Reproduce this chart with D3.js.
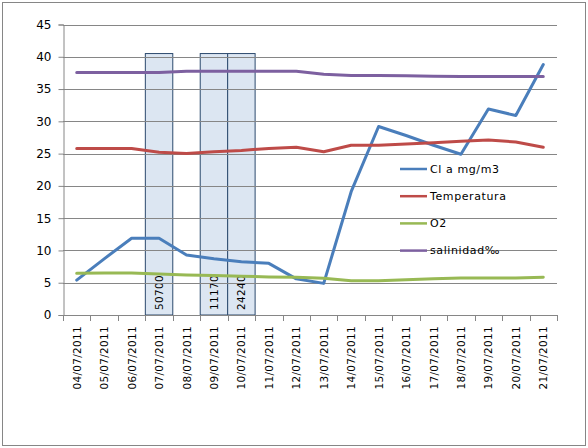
<!DOCTYPE html>
<html>
<head>
<meta charset="utf-8">
<script src="https://cdn.jsdelivr.net/npm/d3@7"></script>
<style>
  body { margin: 0; background: #fff; }
  svg { display: block; font-family: "DejaVu Sans", sans-serif; }
</style>
</head>
<body>
<div id="chart"></div>
<script>
// categories (one per day)
const dates = ["04/07/2011","05/07/2011","06/07/2011","07/07/2011","08/07/2011","09/07/2011",
  "10/07/2011","11/07/2011","12/07/2011","13/07/2011","14/07/2011","15/07/2011",
  "16/07/2011","17/07/2011","18/07/2011","19/07/2011","20/07/2011","21/07/2011"];

// line series
const cla = [5.4, 8.7, 11.9, 11.9, 9.3, 8.7, 8.25, 8.0, 5.6, 4.9, 19.1, 29.2, 27.8, 26.3, 24.9, 31.9, 30.9, 38.8];
const temperatura = [25.8, 25.8, 25.8, 25.2, 25.0, 25.3, 25.5, 25.8, 26.0, 25.3, 26.3, 26.3, 26.5, 26.7, 26.9, 27.1, 26.8, 26.0];
const o2 = [6.45, 6.5, 6.5, 6.35, 6.2, 6.1, 6.0, 5.9, 5.85, 5.7, 5.3, 5.3, 5.45, 5.6, 5.75, 5.75, 5.75, 5.85];
const salinidad = [37.55, 37.55, 37.55, 37.55, 37.75, 37.75, 37.75, 37.75, 37.75, 37.3, 37.1, 37.1, 37.05, 37.0, 36.95, 36.95, 36.95, 36.95];

// column series (same height, labelled with their counts)
const barDates = ["07/07/2011", "09/07/2011", "10/07/2011"];
const barHeights = [40.5, 40.5, 40.5];
const barLabels = ["50700", "11170", "24240"];

const yTicks = [0, 5, 10, 15, 20, 25, 30, 35, 40, 45];

const series = [
  { name: "Cl a mg/m3", values: cla, color: "#4a7ebb" },
  { name: "Temperatura", values: temperatura, color: "#be4b48" },
  { name: "O2", values: o2, color: "#98b954" },
  { name: "salinidad\u2030", values: salinidad, color: "#7d60a0" }
];

const width = 588, height = 448;
const svg = d3.select("#chart").append("svg")
  .attr("width", width)
  .attr("height", height);

// outer frame
svg.append("rect")
  .attr("x", 2.5).attr("y", 2.5)
  .attr("width", 583).attr("height", 443)
  .attr("fill", "#fff")
  .attr("stroke", "#868686");

const x = d3.scaleBand().domain(dates).range([63, 557]).padding(0);
const y = d3.scaleLinear().domain([0, 45]).range([315, 24.5]);

// columns first, gridlines drawn over them
const bars = svg.append("g");
bars.selectAll("rect")
  .data(barDates)
  .enter().append("rect")
  .attr("x", d => x(d))
  .attr("y", (d, i) => y(barHeights[i]))
  .attr("width", x.bandwidth())
  .attr("height", (d, i) => y(0) - y(barHeights[i]))
  .attr("fill", "#dce6f2")
  .attr("stroke", "#2c4a6e")
  .attr("stroke-width", 1);

// gridlines
svg.append("g")
  .selectAll("line")
  .data(yTicks.filter(t => t > 0))
  .enter().append("line")
  .attr("x1", 63).attr("x2", 557)
  .attr("y1", d => Math.round(y(d)) + 0.5)
  .attr("y2", d => Math.round(y(d)) + 0.5)
  .attr("stroke", "#868686")
  .attr("stroke-width", 1);

// bar labels, rotated, reading upward
bars.selectAll("text")
  .data(barDates)
  .enter().append("text")
  .attr("transform", d => "translate(" + (x(d) + x.bandwidth() / 2 + 4) + "," + (y(0) - 5) + ") rotate(-90)")
  .attr("font-size", 10.5)
  .attr("letter-spacing", 0.3)
  .attr("fill", "#000")
  .text((d, i) => barLabels[i]);

// y axis
const yAxis = svg.append("g")
  .attr("transform", "translate(63.5,0)")
  .call(d3.axisLeft(y).tickValues(yTicks).tickSize(5).tickPadding(7));
yAxis.select(".domain").attr("stroke", "#868686");
yAxis.selectAll(".tick line").attr("stroke", "#868686");
yAxis.selectAll(".tick text")
  .attr("font-size", 12)
  .attr("font-family", "DejaVu Sans, sans-serif")
  .attr("fill", "#000");

// x axis baseline and ticks between categories
const xAxis = svg.append("g");
xAxis.append("line")
  .attr("x1", 63).attr("x2", 557)
  .attr("y1", y(0) + 0.5).attr("y2", y(0) + 0.5)
  .attr("stroke", "#868686");
xAxis.selectAll("line.tk")
  .data(dates.concat(["end"]))
  .enter().append("line")
  .attr("class", "tk")
  .attr("x1", (d, i) => Math.round(63 + i * x.bandwidth()) + 0.5)
  .attr("x2", (d, i) => Math.round(63 + i * x.bandwidth()) + 0.5)
  .attr("y1", y(0))
  .attr("y2", y(0) + 6)
  .attr("stroke", "#868686");
xAxis.selectAll("text")
  .data(dates)
  .enter().append("text")
  .attr("transform", d => "translate(" + (x(d) + x.bandwidth() / 2 + 4) + ",326) rotate(-90)")
  .attr("text-anchor", "end")
  .attr("font-size", 10.5)
  .attr("letter-spacing", 0.3)
  .attr("fill", "#000")
  .text(d => d);

// lines
const line = d3.line()
  .x((d, i) => x(dates[i]) + x.bandwidth() / 2)
  .y(d => y(d));

svg.append("g")
  .selectAll("path")
  .data(series)
  .enter().append("path")
  .attr("d", d => line(d.values))
  .attr("fill", "none")
  .attr("stroke", d => d.color)
  .attr("stroke-width", 3)
  .attr("stroke-linejoin", "round")
  .attr("stroke-linecap", "round");

// legend
const legend = svg.append("g");
const items = legend.selectAll("g")
  .data(series)
  .enter().append("g")
  .attr("transform", (d, i) => "translate(400," + (169 + i * 27.2) + ")");
items.append("line")
  .attr("x1", 0).attr("x2", 27)
  .attr("stroke", d => d.color)
  .attr("stroke-width", 2.5);
items.append("text")
  .attr("x", 30)
  .attr("dy", "0.35em")
  .attr("font-size", 11)
  .attr("letter-spacing", 0.6)
  .attr("fill", "#000")
  .text(d => d.name);
</script>
</body>
</html>
